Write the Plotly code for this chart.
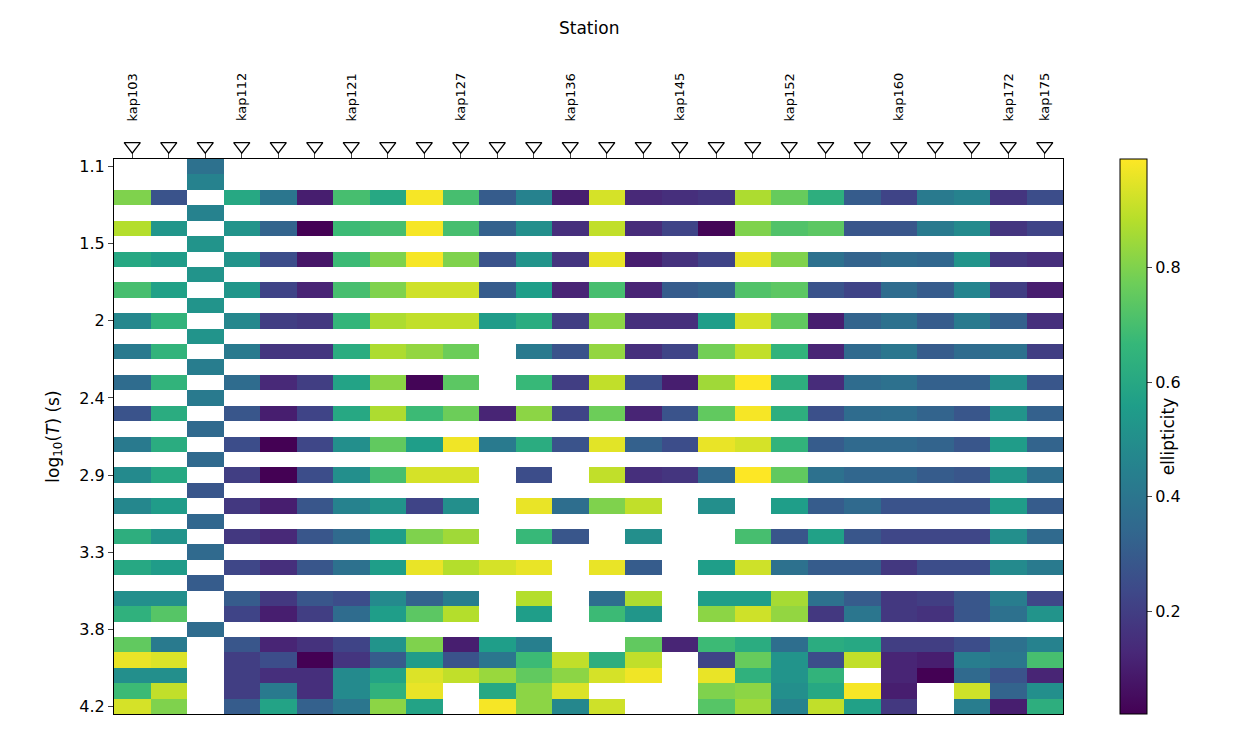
import plotly.graph_objects as go

# station labels (only every few stations are labelled on the original)
station_labels = ['kap103', '', '', 'kap112', '', '', 'kap121', '', '', 'kap127', '', '', 'kap136',
                  '', '', 'kap145', '', '', 'kap152', '', '', 'kap160', '', '', 'kap172', 'kap175']
period_ticks = [0, 5, 10, 15, 20, 25, 30, 35]
period_labels = ['1.1', '1.5', '2', '2.4', '2.9', '3.3', '3.8', '4.2']

N = None
# ellipticity, one list per period row (top to bottom), 26 stations each
ellipticity = [
    [N, N, .38, N, N, N, N, N, N, N, N, N, N, N, N, N, N, N, N, N, N, N, N, N, N, N],
    [N, N, .45, N, N, N, N, N, N, N, N, N, N, N, N, N, N, N, N, N, N, N, N, N, N, N],
    [.8, .27, N, .6, .4, .1, .7, .6, .98, .7, .3, .45, .1, .93, .13, .15, .17, .87, .76, .63, .3, .22, .42, .45, .17, .25],
    [N, N, .45, N, N, N, N, N, N, N, N, N, N, N, N, N, N, N, N, N, N, N, N, N, N, N],
    [.88, .53, N, .52, .33, .01, .68, .7, .98, .7, .32, .5, .15, .9, .14, .22, .03, .8, .72, .74, .28, .28, .42, .48, .17, .22],
    [N, N, .52, N, N, N, N, N, N, N, N, N, N, N, N, N, N, N, N, N, N, N, N, N, N, N],
    [.6, .55, N, .52, .25, .08, .68, .8, .98, .8, .27, .52, .17, .96, .1, .16, .22, .96, .8, .38, .33, .36, .34, .52, .18, .15],
    [N, N, .52, N, N, N, N, N, N, N, N, N, N, N, N, N, N, N, N, N, N, N, N, N, N, N],
    [.7, .57, N, .53, .22, .12, .7, .8, .92, .92, .3, .56, .12, .7, .12, .3, .33, .72, .74, .27, .22, .36, .3, .46, .2, .1],
    [N, N, .52, N, N, N, N, N, N, N, N, N, N, N, N, N, N, N, N, N, N, N, N, N, N, N],
    [.47, .65, N, .47, .2, .18, .66, .87, .9, .9, .55, .62, .2, .82, .15, .15, .56, .93, .75, .1, .33, .38, .3, .42, .32, .15],
    [N, N, .52, N, N, N, N, N, N, N, N, N, N, N, N, N, N, N, N, N, N, N, N, N, N, N],
    [.42, .65, N, .42, .17, .17, .62, .87, .83, .77, N, .42, .27, .83, .15, .22, .78, .9, .65, .12, .35, .4, .3, .36, .38, .2],
    [N, N, .43, N, N, N, N, N, N, N, N, N, N, N, N, N, N, N, N, N, N, N, N, N, N, N],
    [.36, .65, N, .36, .13, .2, .58, .82, .03, .74, N, .67, .2, .9, .25, .1, .85, .99, .63, .14, .36, .38, .32, .32, .5, .28],
    [N, N, .42, N, N, N, N, N, N, N, N, N, N, N, N, N, N, N, N, N, N, N, N, N, N, N],
    [.27, .62, N, .28, .1, .22, .6, .87, .68, .77, .12, .82, .22, .77, .12, .27, .75, .98, .63, .26, .36, .37, .33, .28, .52, .32],
    [N, N, .35, N, N, N, N, N, N, N, N, N, N, N, N, N, N, N, N, N, N, N, N, N, N, N],
    [.42, .62, N, .25, .02, .23, .5, .75, .56, .97, .42, .62, .27, .95, .32, .25, .96, .93, .65, .3, .35, .35, .33, .28, .55, .33],
    [N, N, .35, N, N, N, N, N, N, N, N, N, N, N, N, N, N, N, N, N, N, N, N, N, N, N],
    [.48, .6, N, .2, .02, .25, .5, .7, .93, .93, N, .25, N, .9, .15, .17, .35, .99, .75, .38, .34, .34, .3, .28, .53, .37],
    [N, N, .28, N, N, N, N, N, N, N, N, N, N, N, N, N, N, N, N, N, N, N, N, N, N, N],
    [.47, .55, N, .18, .1, .28, .45, .52, .22, .5, N, .96, .37, .8, .9, N, .5, N, .56, .3, .35, .27, .27, .27, .55, .3],
    [N, N, .34, N, N, N, N, N, N, N, N, N, N, N, N, N, N, N, N, N, N, N, N, N, N, N],
    [.63, .52, N, .18, .13, .28, .35, .56, .8, .85, N, .67, .28, N, .5, N, N, .7, .28, .57, .28, .23, .23, .23, .5, .35],
    [N, N, .35, N, N, N, N, N, N, N, N, N, N, N, N, N, N, N, N, N, N, N, N, N, N, N],
    [.6, .55, N, .23, .15, .28, .38, .56, .96, .88, .93, .96, N, .96, .3, N, .56, .92, .38, .3, .3, .18, .25, .25, .48, .42],
    [N, N, .3, N, N, N, N, N, N, N, N, N, N, N, N, N, N, N, N, N, N, N, N, N, N, N],
    [.5, .5, N, .3, .18, .28, .25, .48, .33, .43, N, .88, N, .37, .87, N, .56, .56, .86, .38, .3, .18, .2, .28, .43, .23],
    [.64, .73, N, .22, .1, .2, .36, .56, .74, .88, N, .56, N, .68, .53, N, .82, .92, .83, .18, .4, .18, .16, .28, .38, .52],
    [N, N, .36, N, N, N, N, N, N, N, N, N, N, N, N, N, N, N, N, N, N, N, N, N, N, N],
    [.75, .42, N, .28, .12, .16, .22, .52, .8, .1, .56, .44, N, N, .75, .12, .68, .62, .37, .62, .6, .2, .2, .25, .38, .45],
    [.96, .94, N, .2, .25, .02, .17, .3, .55, .27, .4, .68, .9, .63, .9, N, .22, .76, .52, .25, .9, .12, .1, .43, .4, .7],
    [.5, .5, N, .2, .15, .15, .48, .58, .94, .9, .84, .75, .82, .93, .97, N, .96, .64, .52, .65, N, .12, .02, .35, .27, .12],
    [.68, .9, N, .2, .42, .15, .48, .64, .96, N, .6, .82, .94, N, N, N, .8, .82, .5, .6, .98, .1, N, .92, .33, .5],
    [.93, .8, N, .3, .58, .32, .4, .82, .58, N, .98, .82, .47, .92, N, N, .73, .85, .45, .9, .57, .18, N, .43, .1, .63],
]

n_st = len(station_labels)
main_top = 555 / 593  # heatmap part of the plotting box; the rest holds the station markers

fig = go.Figure()
fig.add_trace(go.Heatmap(
    z=ellipticity, x=list(range(n_st)), y=list(range(len(ellipticity))),
    colorscale='Viridis', zmin=0.02, zmax=0.99, hoverongaps=False,
    colorbar=dict(thickness=27, len=main_top, lenmode='fraction', y=0, yanchor='bottom',
                  x=1.06, xanchor='left', xpad=0, ypad=0,
                  tickvals=[0.2, 0.4, 0.6, 0.8], ticks='outside', ticklen=5,
                  outlinewidth=1, outlinecolor='black', tickfont=dict(size=16),
                  title=dict(text='ellipticity', side='right', font=dict(size=17))),
))
# station markers above the plot
fig.add_trace(go.Scatter(
    x=list(range(n_st)), y=[0.34] * n_st, mode='markers', yaxis='y2', cliponaxis=False,
    marker=dict(symbol='triangle-down-open', size=14, color='black', line=dict(width=1.3, color='black')),
    hoverinfo='skip', showlegend=False,
))
for i, lab in enumerate(station_labels):
    if lab:
        fig.add_annotation(x=i, y=0.996, xref='x', yref='paper', text=lab, textangle=-90,
                           showarrow=False, yanchor='bottom', font=dict(size=13))
fig.add_annotation(x=0.5, y=1.137, xref='paper', yref='paper', text='Station', showarrow=False,
                   yanchor='bottom', font=dict(size=17))

fig.update_layout(
    width=1258, height=738, plot_bgcolor='white', paper_bgcolor='white',
    margin=dict(l=106, r=203, t=113, b=32, autoexpand=False),
    font=dict(family='DejaVu Sans', color='black'),
    xaxis=dict(range=[-0.5, n_st - 0.5], side='top', showticklabels=False, ticks='outside',
               ticklen=6, tickvals=list(range(n_st)), showgrid=False, zeroline=False,
               showline=True, linecolor='black', mirror=True, linewidth=1.2),
    yaxis=dict(domain=[0, main_top], range=[35.5, -0.5], tickvals=period_ticks, ticktext=period_labels,
               ticks='outside', ticklen=5, showgrid=False, zeroline=False, showline=True,
               linecolor='black', mirror=True, linewidth=1.2, tickfont=dict(size=16),
               title=dict(text='log<sub>10</sub>(<i>T</i>) (s)', font=dict(size=17))),
    yaxis2=dict(domain=[main_top, 1], range=[0, 1], visible=False, anchor='x'),
)
fig.write_html('out.html')
